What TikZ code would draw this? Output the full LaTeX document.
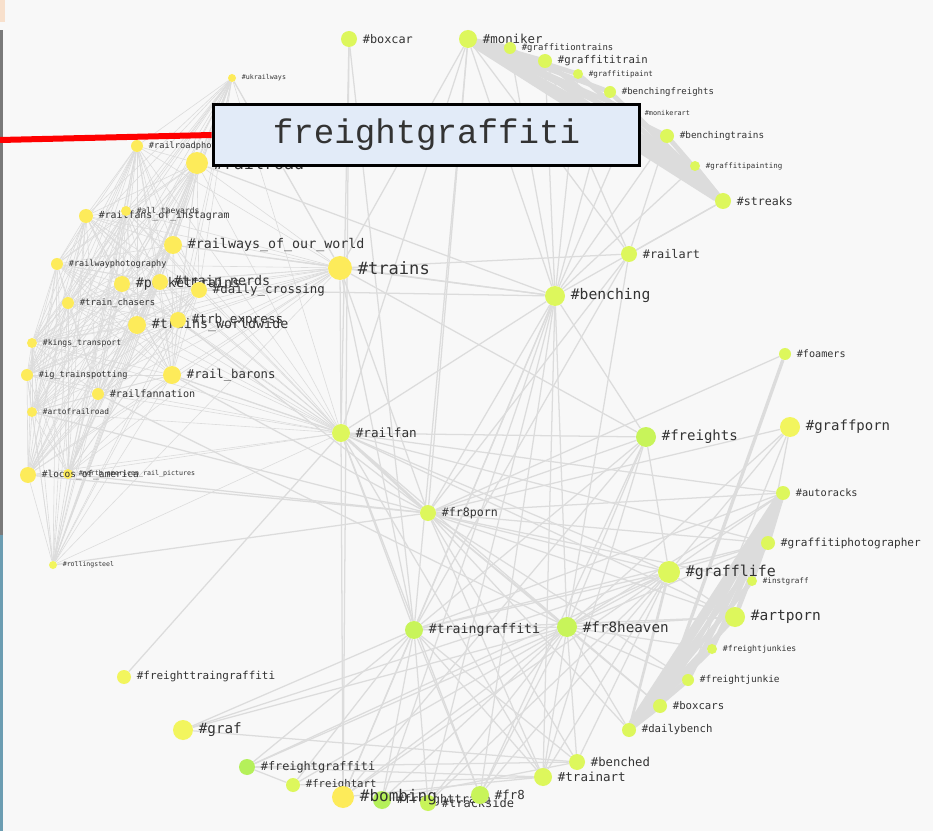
\documentclass[tikz,border=0pt]{standalone}
\usepackage{fontspec}
\newfontfamily\labfont{DejaVu Sans Mono}
\newfontfamily\boxfont{Liberation Mono}
\pgfdeclarelayer{bg}
\pgfsetlayers{bg,main}
\definecolor{bgc}{HTML}{F8F8F8}
\definecolor{cY}{HTML}{FDEB5A}
\definecolor{cYL}{HTML}{F2F55E}
\definecolor{cL}{HTML}{DDF75C}
\definecolor{cG}{HTML}{C8F45A}
\definecolor{cGG}{HTML}{B5F05A}
\definecolor{edgec}{HTML}{DCDCDC}
\definecolor{labc}{HTML}{333333}
\definecolor{boxc}{HTML}{E2EBF8}
\definecolor{stripg}{HTML}{7A7A7A}
\definecolor{stripb}{HTML}{6C9DB2}
\definecolor{corner}{HTML}{F8E0CC}
\tikzset{
  dot/.style={circle, inner sep=0pt, draw=none},
  lab/.style={text=labc, inner sep=1.5pt},
  edge/.style={draw=edgec, line width=0.95pt},
  mesh/.style={draw=edgec, line width=0.45pt},
  band/.style={draw=edgec, line width=3.5pt, line cap=round},
  fatband/.style={draw=edgec, line width=7pt, line cap=round},
  bigbox/.style={draw=black, line width=2.3pt, fill=boxc, minimum width=320pt, minimum height=46pt, inner sep=0pt, text=labc, font=\boxfont\fontsize{25.6pt}{26pt}\selectfont}
}
\newcommand\hn[6]{\node[dot, minimum size=#3*1.5pt, fill=#4, label={[lab, label distance=2.5pt, font=\labfont\fontsize{#5pt}{#5pt}\selectfont]right:#6}] (#1) at (#2) {};}
\begin{document}
\begin{tikzpicture}[x=0.75pt,y=-0.75pt]
\useasboundingbox (0,0) rectangle (933,831);
% nodes
\hn{boxcar}{349,39}{8}{cL}{8.9}{\#boxcar}
\hn{moniker}{468,39}{9}{cL}{9.3}{\#moniker}
\hn{gotr}{510,48}{6}{cL}{6.7}{\#graffitiontrains}
\hn{gtrain}{545,61}{7}{cL}{8}{\#graffititrain}
\hn{gpaint}{578,74}{5}{cL}{5.7}{\#graffitipaint}
\hn{bfr}{610,92}{6}{cL}{6.75}{\#benchingfreights}
\hn{monart}{634,113}{5}{cL}{5.1}{\#monikerart}
\hn{btr}{667,136}{7}{cL}{7}{\#benchingtrains}
\hn{gpainting}{695,166}{5}{cL}{5.6}{\#graffitipainting}
\hn{streaks}{723,201}{8}{cL}{8.7}{\#streaks}
\hn{railart}{629,254}{8}{cL}{8.9}{\#railart}
\hn{benching}{555,296}{10}{cL}{11}{\#benching}
\hn{trains}{340,268}{12}{cY}{12.8}{\#trains}
\hn{rrph}{137,146}{6}{cY}{6.5}{\#railroadphotography}
\hn{rroad}{197,163}{11}{cY}{12.5}{\#railroad}
\hn{ukr}{232,78}{4}{cY}{5}{\#ukrailways}
\hn{rfi}{86,216}{7}{cY}{7.4}{\#railfans\_of\_instagram}
\hn{ally}{126,211}{5}{cY}{6}{\#all\_theyards}
\hn{rwoow}{173,245}{9}{cY}{10}{\#railways\_of\_our\_world}
\hn{rwph}{57,264}{6}{cY}{6.4}{\#railwayphotography}
\hn{pocket}{122,284}{8}{cY}{10}{\#pockettrains}
\hn{tnerds}{160,282}{8}{cY}{10}{\#train\_nerds}
\hn{daily}{199,290}{8}{cY}{9.3}{\#daily\_crossing}
\hn{tchas}{68,303}{6}{cY}{6.7}{\#train\_chasers}
\hn{tww}{137,325}{9}{cY}{10}{\#trains\_worldwide}
\hn{trb}{178,320}{8}{cY}{9.5}{\#trb\_express}
\hn{kings}{32,343}{5}{cY}{6.1}{\#kings\_transport}
\hn{igts}{27,375}{6}{cY}{6.5}{\#ig\_trainspotting}
\hn{barons}{172,375}{9}{cY}{9.2}{\#rail\_barons}
\hn{rfnat}{98,394}{6}{cY}{7.6}{\#railfannation}
\hn{artrr}{32,412}{5}{cY}{5.9}{\#artofrailroad}
\hn{narp}{68,474}{5}{cY}{5}{\#north\_american\_rail\_pictures}
\hn{locos}{28,475}{8}{cY}{7.1}{\#locos\_of\_america}
\hn{rolling}{53,565}{4}{cYL}{4.9}{\#rollingsteel}
\hn{railfan}{341,433}{9}{cL}{9.5}{\#railfan}
\hn{fr8porn}{428,513}{8}{cL}{8.7}{\#fr8porn}
\hn{freights}{646,437}{10}{cG}{10.5}{\#freights}
\hn{foamers}{785,354}{6}{cL}{7.6}{\#foamers}
\hn{graffporn}{790,427}{10}{cYL}{10.5}{\#graffporn}
\hn{autoracks}{783,493}{7}{cL}{7.7}{\#autoracks}
\hn{gphot}{768,543}{7}{cL}{8.3}{\#graffitiphotographer}
\hn{instgraff}{752,581}{5}{cL}{5.7}{\#instgraff}
\hn{grafflife}{669,572}{11}{cL}{11.2}{\#grafflife}
\hn{artporn}{735,617}{10}{cL}{10.9}{\#artporn}
\hn{fjunkies}{712,649}{5}{cL}{6.1}{\#freightjunkies}
\hn{fjunkie}{688,680}{6}{cL}{7.1}{\#freightjunkie}
\hn{boxcars}{660,706}{7}{cL}{8}{\#boxcars}
\hn{dailybench}{629,730}{7}{cL}{8}{\#dailybench}
\hn{benched}{577,762}{8}{cL}{9.2}{\#benched}
\hn{trainart}{543,777}{9}{cL}{9.4}{\#trainart}
\hn{fr8heaven}{567,627}{10}{cG}{10.7}{\#fr8heaven}
\hn{tgraff}{414,630}{9}{cG}{9.9}{\#traingraffiti}
\hn{ftg}{124,677}{7}{cYL}{8.2}{\#freighttraingraffiti}
\hn{graf}{183,730}{10}{cYL}{10.7}{\#graf}
\hn{fgraff}{247,767}{8}{cGG}{8.9}{\#freightgraffiti}
\hn{fart}{293,785}{7}{cL}{8}{\#freightart}
\hn{freightx}{382,800}{9}{cGG}{9}{\#freighttrain}
\hn{trackside}{428,803}{8}{cG}{9}{\#trackside}
\hn{fr8}{480,795}{9}{cG}{9.3}{\#fr8}
\hn{bombing}{343,797}{11}{cY}{12}{\#bombing}
% edges
\begin{pgfonlayer}{bg}
\fill[bgc] (0,0) rectangle (933,831);
\fill[corner] (0,0) rectangle (5,22);
\fill[stripg] (0,30) rectangle (2.5,535);
\fill[stripb] (0,535) rectangle (2.5,831);
% left mesh
\foreach \a [count=\i] in {rrph,rroad,ukr,rfi,ally,rwoow,rwph,pocket,tnerds,daily,tchas,tww,trb,kings,igts,barons,rfnat,artrr,locos,narp,rolling}{
  \foreach \b [count=\j] in {rrph,rroad,ukr,rfi,ally,rwoow,rwph,pocket,tnerds,daily,tchas,tww,trb,kings,igts,barons,rfnat,artrr,locos,narp,rolling}{
    \ifnum\j>\i \draw[mesh] (\a) -- (\b); \fi
  }
  \draw[mesh] (\a) -- (trains);
  \draw[mesh] (\a) -- (railfan);
}
% moniker band
\draw[fatband] (moniker) -- (streaks);
\foreach \n in {gotr,gtrain,gpaint,bfr,monart,btr,gpainting}{
  \draw[band] (moniker) -- (\n);
  \draw[band] (\n) -- (streaks);
  \draw[edge] (\n) -- (benching);
}
\foreach \n in {moniker,gtrain,btr}{\draw[edge] (\n) -- (railart);}
\draw[edge] (moniker) -- (benching);
\draw[edge] (streaks) -- (benching);
\draw[edge] (streaks) -- (railart);
% right band
\draw[fatband] (autoracks) -- (dailybench);
\foreach \n in {gphot,instgraff,artporn,fjunkies,fjunkie,boxcars}{
  \draw[band] (autoracks) -- (\n);
  \draw[band] (\n) -- (dailybench);
}
\draw[draw=edgec, line width=2.5pt] (foamers) -- (boxcars);
\draw[draw=edgec, line width=2pt] (grafflife) -- (dailybench);
\draw[draw=edgec, line width=2pt] (railfan) -- (fr8porn);
% hubs
\foreach \a/\b in {
 trains/benching, trains/railfan, trains/fr8porn, trains/freights, trains/tgraff, trains/railart, trains/moniker,
 railfan/fr8heaven, railfan/grafflife, railfan/artporn, railfan/freights, railfan/trainart,
 railfan/tgraff, railfan/benching, railfan/bombing, railfan/autoracks, railfan/gphot, railfan/fr8,
 fr8porn/grafflife, fr8porn/autoracks, fr8porn/gphot, fr8porn/artporn, fr8porn/fr8heaven, fr8porn/trainart,
 fr8porn/benched, fr8porn/freights, fr8porn/foamers, fr8porn/boxcars, fr8porn/dailybench, fr8porn/instgraff,
 fr8porn/fjunkie, fr8porn/benching, fr8porn/railart, fr8porn/graffporn,
 fr8heaven/grafflife, fr8heaven/artporn, fr8heaven/autoracks, fr8heaven/freights, fr8heaven/tgraff,
 fr8heaven/trainart, fr8heaven/benched, fr8heaven/fr8, fr8heaven/bombing, fr8heaven/fgraff, fr8heaven/graf,
 fr8heaven/dailybench, fr8heaven/boxcars, fr8heaven/fjunkie, fr8heaven/fjunkies, fr8heaven/gphot,
 fr8heaven/benching, fr8heaven/railart, fr8heaven/freightx, fr8heaven/trackside, fr8heaven/fart,
 tgraff/graf, tgraff/fgraff, tgraff/fart, tgraff/bombing, tgraff/freightx, tgraff/trackside, tgraff/fr8,
 tgraff/trainart, tgraff/benched, tgraff/grafflife, tgraff/artporn, tgraff/freights, tgraff/benching,
 tgraff/railart, tgraff/gphot, tgraff/autoracks,
 grafflife/autoracks, grafflife/gphot, grafflife/artporn, grafflife/benched, grafflife/trainart, grafflife/fr8,
 grafflife/freights, grafflife/graffporn, grafflife/bombing, grafflife/fgraff, grafflife/trackside,
 freights/benching, freights/trainart, freights/bombing, freights/fr8,
 graffporn/fr8heaven, graffporn/fjunkie, graffporn/gphot,
 trainart/fgraff, trainart/fart, benched/fgraff, benched/graf, graf/grafflife, fgraff/fart, trainart/bombing,
 benched/freightx, fr8/benching, trackside/benching, bombing/benching, freightx/benching, trainart/benching,
 ftg/railfan, boxcar/railfan, boxcar/tgraff, boxcar/bombing, moniker/railfan, moniker/fr8porn, moniker/tgraff,
 rolling/fr8porn, locos/fr8porn, narp/fr8porn, artrr/fr8porn, rfnat/fr8heaven, barons/railfan,
 barons/fr8porn, daily/benching, rwoow/benching, trb/fr8porn, ukr/trains, rroad/benching}{
  \draw[edge] (\a) -- (\b);
}
\end{pgfonlayer}
% overlay
\node[bigbox] (box) at (426.5,135) {freightgraffiti};
\coordinate (rl) at (0,140);
\draw[red, line width=4.5pt] (rl) -- (box.west);
\end{tikzpicture}
\end{document}
